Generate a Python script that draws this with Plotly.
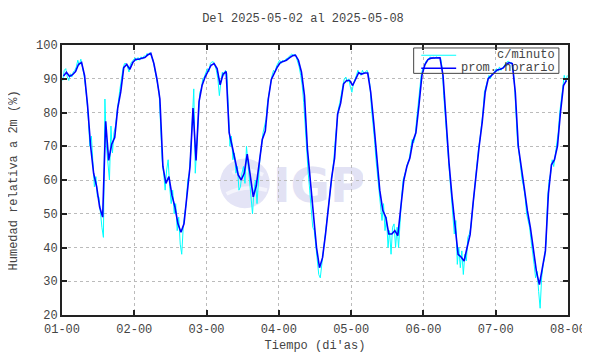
import base64
import plotly.graph_objects as go

# ---- data (hours since 01-00) ----
tick_labels = ["01-00", "02-00", "03-00", "04-00", "05-00", "06-00", "07-00", "08-00"]
tick_hours = [0, 24, 48, 72, 96, 120, 144, 168]
series_names = ["c/minuto", "prom. horario"]

# hourly averages (prom. horario), one value per hour, plotted at mid-hour
hourly_d1 = [90.8, 91.9, 90.7, 91.2, 92.1, 94.3, 94.8, 90.9, 82, 70, 62, 58, 52, 49, 77.4, 65.8, 70.6, 72.6, 81.3, 86.1, 93.3, 94.3, 92.8, 94.8]
hourly_d2 = [95.8, 95.8, 96.1, 96.3, 97.1, 97.5, 94.5, 90, 84, 64, 59, 61, 55.5, 52, 47, 44.5, 47, 56, 64, 81.3, 65.8, 83.2, 88, 90.5]
hourly_d3 = [92.5, 94, 94.5, 93, 88.2, 91.4, 92.1, 74, 70, 66, 61.5, 60, 62, 67.7, 60.5, 55, 58.3, 64.8, 72, 74.5, 84, 89.8, 91.9, 93.5]
hourly_d4 = [94.8, 95.1, 95.5, 96.2, 96.8, 97, 95.5, 92, 85, 69, 58.5, 48, 40, 34, 37, 44, 52.5, 60.5, 66.5, 79.5, 82.7, 88.5, 89.5, 89.5]
hourly_d5 = [88, 89.8, 91.8, 91.4, 91.7, 91.7, 86, 77, 67, 57, 51, 49, 44, 44, 45, 43.5, 52, 60, 64, 66.5, 71.5, 74, 82, 91]
hourly_d6 = [94.2, 95.7, 96.1, 96.2, 96.2, 96.2, 91, 77, 65, 55, 46.5, 38, 37.2, 36, 40, 43.8, 53.2, 62.5, 70, 77, 86, 90, 90.8, 91.8]
hourly_d7 = [92.6, 92.8, 93.2, 94.3, 94.8, 94.5, 86, 70, 63, 57.5, 51, 46, 39.5, 33, 29, 33.5, 39, 56, 64.5, 66, 70, 80, 88, 89.5]

# per-minute series (c/minuto), read at two points per hour
minute_d1 = [89.5, 92.5, 93, 90.5, 89.5, 91.5, 90.5, 92, 92.5, 93.5, 95.5, 94, 95.8, 93.5, 91.5, 88,
             84, 78, 70, 73, 64, 58, 61, 55, 55, 50, 46, 43, 84, 70, 66, 60,
             76, 68, 74, 76, 80, 84, 87, 90, 93, 94.5, 94.5, 93.5, 92, 94.5, 95.2, 95.5]
minute_d2 = [96.2, 95.3, 96.3, 95.5, 96.5, 95.8, 96.8, 96.5, 97.5, 97, 97.8, 96.5, 95.5, 93, 91, 88,
             86, 76, 66, 62, 57, 63, 66, 58, 53, 57, 50, 53, 45, 49, 41, 38,
             46, 50, 53, 60, 62, 68, 78, 87, 62, 70, 80, 86, 87, 90, 90.5, 92]
minute_d3 = [93, 92, 94.5, 95, 95, 94, 92.5, 90, 85, 89, 92, 91, 92.5, 91.5, 79, 70,
             73, 66, 68, 62, 64, 57, 58, 62, 64, 59, 70, 65, 62, 56, 50, 57,
             60, 53, 62, 67, 70, 74, 76, 78, 83, 86, 89, 91, 92.5, 92, 93.8, 94.5]
minute_d4 = [95.5, 94.5, 95.5, 95, 95.8, 96, 96.5, 96.8, 97.3, 97, 97.2, 96.5, 95, 93.5, 91, 88,
             83, 76, 67, 62, 57, 52, 46, 45, 41, 37, 32, 31, 35, 39, 42, 46,
             51, 55, 59, 62, 66, 72, 78, 81, 83, 86, 88, 90, 90.5, 89, 90, 87.5]
minute_d5 = [86, 88.5, 89.5, 91, 92.5, 91.5, 91, 92.5, 91.5, 92, 92.5, 91.2, 88, 81, 77, 72,
             66, 61, 58, 53, 48, 53, 45, 49, 40, 45, 38, 46, 47, 40, 46, 40,
             50, 55, 60, 62, 63, 65, 66, 69, 72, 71, 73, 78, 82, 87, 91, 93]
minute_d6 = [93.5, 95, 95.5, 96.2, 96.5, 96, 96.4, 96, 96.5, 96.2, 96.3, 96, 93, 85, 78, 72,
             67, 61, 56, 50, 44, 48, 35, 40, 34, 39, 32, 38, 36, 43, 44, 46,
             51, 56, 61, 64, 69, 72, 76, 80, 86, 88, 90, 91, 90, 91.5, 91.5, 92.5]
minute_d7 = [93, 92.2, 93.5, 92.5, 93.2, 94, 94.5, 95, 95.2, 94.5, 94.8, 93.5, 88, 78, 71, 68,
             64, 60, 58, 55, 50, 48, 46, 42, 39, 35, 31, 33, 27, 22, 31, 35,
             37, 42, 55, 60, 62, 66, 64, 68, 71, 74, 80, 84, 88, 91, 89, 91]

hourly = hourly_d1 + hourly_d2 + hourly_d3 + hourly_d4 + hourly_d5 + hourly_d6 + hourly_d7
minute = minute_d1 + minute_d2 + minute_d3 + minute_d4 + minute_d5 + minute_d6 + minute_d7
hourly_t = [k + 0.5 for k in range(len(hourly))]
minute_t = [k / 2 + 0.25 for k in range(len(minute))]

MONO = "Liberation Mono, DejaVu Sans Mono, monospace"
TXT = "#444444"
CYAN = "#00ffff"
BLUE = "#0000ff"

fig = go.Figure()
fig.add_trace(go.Scatter(x=minute_t, y=minute, mode="lines",
                         line=dict(color=CYAN, width=1), name=series_names[0], showlegend=False))
fig.add_trace(go.Scatter(x=hourly_t, y=hourly, mode="lines",
                         line=dict(color=BLUE, width=1.6), name=series_names[1], showlegend=False))

# faint IGP watermark
svg = ("<svg xmlns='http://www.w3.org/2000/svg' width='150' height='58'>"
       "<circle cx='27' cy='29' r='26' fill='#e4e4f6'/>"
       "<path d='M8 40 Q27 30 50 36' stroke='#f4f4fc' stroke-width='4' fill='none'/>"
       "<path d='M14 18 Q30 12 46 20' stroke='#f4f4fc' stroke-width='4' fill='none'/>"
       "<text x='56' y='49' font-family='DejaVu Sans' font-weight='bold' font-size='50' fill='#e2e2f4'>IGP</text>"
       "</svg>")
src = "data:image/svg+xml;base64," + base64.b64encode(svg.encode()).decode()
fig.add_layout_image(dict(source=src, xref="paper", yref="paper", x=0.31, y=0.59,
                          sizex=0.285, sizey=0.205, xanchor="left", yanchor="top",
                          sizing="stretch", layer="below", opacity=1))

# legend box (gnuplot style: sample on the left, right-aligned label)
fig.add_shape(type="rect", xref="paper", yref="paper", x0=0.695, x1=0.982, y0=0.895, y1=0.989,
              line=dict(color="#444444", width=1), fillcolor="rgba(0,0,0,0)")
legend_rows = [(0.962, CYAN, 1), (0.914, BLUE, 1.6)]
for (yy, col, w), nm in zip(legend_rows, series_names):
    fig.add_shape(type="line", xref="paper", yref="paper", x0=0.710, x1=0.779, y0=yy, y1=yy,
                  line=dict(color=col, width=w))
    fig.add_annotation(xref="paper", yref="paper", x=0.979, y=yy, xanchor="right", yanchor="middle",
                       text=nm, showarrow=False, font=dict(family=MONO, size=12, color=TXT))

# y-axis title placed like the reference (further left)
fig.add_annotation(xref="paper", yref="paper", x=-0.094, y=0.5, xanchor="center", yanchor="middle",
                   text="Humedad relativa a 2m (%)", textangle=-90, showarrow=False,
                   font=dict(family=MONO, size=12, color=TXT))

axis_common = dict(showline=True, linecolor="#222222", linewidth=2, mirror="ticks",
                   ticks="inside", ticklen=5, tickcolor="#222222", tickwidth=1.5,
                   showgrid=True, gridcolor="#bbbbbb", griddash="dot", gridwidth=1,
                   zeroline=False, tickfont=dict(family=MONO, size=12, color=TXT))

fig.update_xaxes(range=[0, 168], tickvals=tick_hours, ticktext=tick_labels, ticklabelstandoff=2,
                 title=dict(text="Tiempo (di'as)", font=dict(family=MONO, size=12, color=TXT), standoff=4),
                 **axis_common)
fig.update_yaxes(range=[20, 100], dtick=10, **axis_common)

fig.update_layout(
    width=590, height=354,
    margin=dict(l=54, r=25, t=37, b=40),
    paper_bgcolor="white", plot_bgcolor="white",
    title=dict(text="Del 2025-05-02 al 2025-05-08", x=0.5, xanchor="center", y=0.972, yanchor="middle",
               font=dict(family=MONO, size=12, color=TXT)),
    showlegend=False,
)

fig.write_html("out.html")
